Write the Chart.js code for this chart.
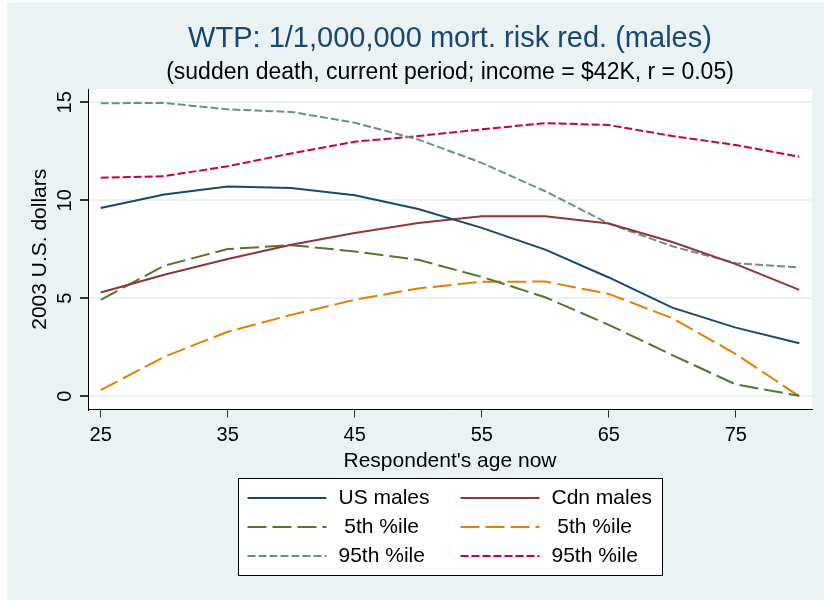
<!DOCTYPE html>
<html>
<head>
<meta charset="utf-8">
<script src="https://cdn.jsdelivr.net/npm/chart.js@4/dist/chart.umd.min.js"></script>
<style>body { margin: 0; background: #fff; }</style>
</head>
<body>
<canvas id="myChart" width="824" height="600"></canvas>
<script>
// values
let ages = [25, 30, 35, 40, 45, 50, 55, 60, 65, 70, 75, 80];
let usMales = [9.61, 10.29, 10.70, 10.63, 10.26, 9.55, 8.59, 7.48, 6.06, 4.52, 3.50, 2.70];
let cdnMales = [5.29, 6.20, 7.00, 7.73, 8.33, 8.84, 9.18, 9.18, 8.81, 7.87, 6.74, 5.43];
let us5th = [4.92, 6.66, 7.51, 7.71, 7.39, 6.96, 6.09, 5.05, 3.64, 2.10, 0.60, 0.02];
let cdn5th = [0.31, 2.01, 3.29, 4.15, 4.92, 5.50, 5.84, 5.85, 5.22, 3.98, 2.15, 0.00];
let us95th = [14.95, 14.97, 14.64, 14.51, 13.96, 13.10, 11.91, 10.46, 8.81, 7.65, 6.79, 6.57];
let cdn95th = [11.15, 11.23, 11.74, 12.39, 12.99, 13.28, 13.62, 13.94, 13.84, 13.28, 12.82, 12.22];

let xTicks = [25, 35, 45, 55, 65, 75];
let yTicks = [0, 5, 10, 15];
let seriesLabels = ['US males', 'Cdn males', ' 5th %ile', ' 5th %ile', '95th %ile', '95th %ile'];

const FONT = '"Liberation Sans", Arial, sans-serif';
const BG = '#eaf2f3';

function pts(vals) {
    return ages.map((a, i) => ({ x: a, y: vals[i] }));
}

// graph region background + white plot region
const backdrop = {
    id: 'backdrop',
    beforeDraw(chart) {
        let ctx = chart.ctx;
        let a = chart.chartArea;
        ctx.save();
        ctx.fillStyle = '#fff';
        ctx.fillRect(0, 0, chart.width, chart.height);
        ctx.fillStyle = BG;
        ctx.fillRect(7, 2, chart.width - 7, chart.height - 2);
        ctx.fillStyle = '#fff';
        ctx.fillRect(a.left, a.top, a.right - a.left, a.bottom - a.top);
        ctx.restore();
    }
};

// Stata-style vertical y tick labels
const yLabels = {
    id: 'yLabels',
    afterDraw(chart) {
        let ctx = chart.ctx;
        let s = chart.scales.y;
        ctx.save();
        ctx.font = '20px ' + FONT;
        ctx.fillStyle = '#000';
        ctx.textAlign = 'center';
        ctx.textBaseline = 'middle';
        yTicks.forEach(v => {
            ctx.save();
            ctx.translate(s.right - 23, s.getPixelForValue(v));
            ctx.rotate(-Math.PI / 2);
            ctx.fillText(String(v), 0, 0);
            ctx.restore();
        });
        ctx.restore();
    }
};

// two-column boxed legend
const boxLegend = {
    id: 'boxLegend',
    afterDraw(chart) {
        let ctx = chart.ctx;
        let a = chart.chartArea;
        let w = 424, h = 97;
        let left = Math.round((a.left + a.right) / 2 - w / 2) + 0.5;
        let top = Math.round(a.bottom + 68) + 0.5;
        ctx.save();
        ctx.fillStyle = '#fff';
        ctx.fillRect(left, top, w, h);
        ctx.strokeStyle = '#000';
        ctx.lineWidth = 1;
        ctx.strokeRect(left, top, w, h);
        ctx.font = '21px ' + FONT;
        ctx.textBaseline = 'middle';
        ctx.textAlign = 'left';
        chart.data.datasets.forEach((ds, i) => {
            let col = i % 2;
            let row = Math.floor(i / 2);
            let x0 = left + 9 + col * 213;
            let y = Math.round(top + 19 + row * 29);
            ctx.strokeStyle = ds.borderColor;
            ctx.lineWidth = ds.borderWidth;
            ctx.setLineDash(ds.borderDash || []);
            ctx.beginPath();
            ctx.moveTo(x0, y);
            ctx.lineTo(x0 + 79, y);
            ctx.stroke();
            ctx.setLineDash([]);
            ctx.fillStyle = '#000';
            ctx.fillText(ds.label, x0 + 91, y);
        });
        ctx.restore();
    }
};

let ctx = document.getElementById('myChart').getContext('2d');
let myChart = new Chart(ctx, {
    type: 'line',
    data: {
        datasets: [
            { label: seriesLabels[0], data: pts(usMales), borderColor: '#1a476f', borderWidth: 2 },
            { label: seriesLabels[1], data: pts(cdnMales), borderColor: '#90353b', borderWidth: 2 },
            { label: seriesLabels[2], data: pts(us5th), borderColor: '#55752f', borderWidth: 2, borderDash: [19, 6] },
            { label: seriesLabels[3], data: pts(cdn5th), borderColor: '#e37e00', borderWidth: 2, borderDash: [19, 6] },
            { label: seriesLabels[4], data: pts(us95th), borderColor: '#6e8e84', borderWidth: 2, borderDash: [8, 3] },
            { label: seriesLabels[5], data: pts(cdn95th), borderColor: '#c10534', borderWidth: 2, borderDash: [8, 3] }
        ]
    },
    options: {
        responsive: false,
        animation: false,
        devicePixelRatio: 1,
        layout: { padding: { left: 7, right: 12, top: 0, bottom: 128.5 } },
        elements: {
            point: { radius: 0 },
            line: { tension: 0, fill: false }
        },
        plugins: {
            legend: { display: false },
            tooltip: { enabled: false },
            title: {
                display: true,
                fullSize: false,
                text: 'WTP: 1/1,000,000 mort. risk red. (males)',
                color: '#1a476f',
                font: { family: FONT, size: 29, weight: 'normal', lineHeight: 1 },
                padding: { top: 24.3, bottom: 0 }
            },
            subtitle: {
                display: true,
                fullSize: false,
                text: '(sudden death, current period; income = $42K, r = 0.05)',
                color: '#000',
                font: { family: FONT, size: 23, weight: 'normal', lineHeight: 1 },
                padding: { top: 7.4, bottom: 5.3 }
            }
        },
        scales: {
            x: {
                type: 'linear',
                min: 24,
                max: 81,
                afterBuildTicks: s => { s.ticks = xTicks.map(v => ({ value: v })); },
                grid: { drawOnChartArea: false, tickLength: 8, tickColor: '#333' },
                border: { color: '#000', width: 1 },
                ticks: { color: '#000', padding: 7.5, maxRotation: 0, font: { family: FONT, size: 20, lineHeight: 1 } },
                title: {
                    display: true,
                    text: "Respondent's age now",
                    color: '#000',
                    font: { family: FONT, size: 21, lineHeight: 1 },
                    padding: { top: -2, bottom: 0 }
                }
            },
            y: {
                type: 'linear',
                min: -0.68,
                max: 15.68,
                afterBuildTicks: s => { s.ticks = yTicks.map(v => ({ value: v })); },
                grid: { color: BG, lineWidth: 2, tickLength: 8, tickColor: '#333' },
                border: { color: '#000', width: 1 },
                ticks: { display: false },
                title: {
                    display: true,
                    text: '2003 U.S. dollars',
                    color: '#000',
                    font: { family: FONT, size: 21, lineHeight: 1 },
                    padding: { top: 23, bottom: 29 }
                }
            }
        }
    },
    plugins: [backdrop, yLabels, boxLegend]
});
</script>
</body>
</html>
